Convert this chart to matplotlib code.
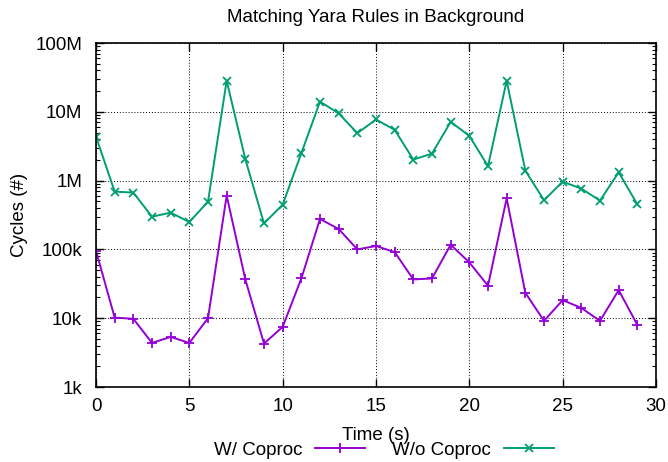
import matplotlib
matplotlib.use('Agg')
import matplotlib.pyplot as plt
from matplotlib.ticker import FixedLocator, FixedFormatter, LogLocator, NullFormatter

plt.rcParams['font.family'] = ['Liberation Sans', 'DejaVu Sans']

# data
time_s = list(range(30))
with_coproc = [95.7e3, 10.2e3, 9.8e3, 4.37e3, 5.35e3, 4.37e3, 10e3, 605e3, 36.6e3, 4.28e3,
               7.48e3, 37.8e3, 277e3, 198e3, 100e3, 112e3, 91.4e3, 36.6e3, 37.8e3, 117e3,
               64.7e3, 29.6e3, 553e3, 23.4e3, 9.14e3, 18.3e3, 14.1e3, 9.14e3, 25.6e3, 8.0e3]
without_coproc = [4.37e6, 692e3, 669e3, 299e3, 342e3, 250e3, 494e3, 28.3e6, 2.05e6, 239e3,
                  447e3, 2.5e6, 14.1e6, 9.46e6, 4.89e6, 7.73e6, 5.47e6, 2.02e6, 2.47e6, 7.15e6,
                  4.46e6, 1.62e6, 28.3e6, 1.40e6, 518e3, 966e3, 764e3, 512e3, 1.32e6, 452e3]
y_ticks = [1e3, 1e4, 1e5, 1e6, 1e7, 1e8]
y_labels = ['1k', '10k', '100k', '1M', '10M', '100M']
x_ticks = [0, 5, 10, 15, 20, 25, 30]

fs = 13.5
W, H = 668, 462
fig = plt.figure(figsize=(W / 100, H / 100), dpi=100)
ax = fig.add_axes([96 / W, 1 - 387 / H, 560 / W, 344 / H])

ax.plot(time_s, with_coproc, color='#9400d3', marker='+', markersize=7, linewidth=1.4,
        markeredgewidth=1.3, label='W/ Coproc')
ax.plot(time_s, without_coproc, color='#009e73', marker='x', markersize=6, linewidth=1.4,
        markeredgewidth=1.3, label='W/o Coproc')

ax.set_yscale('log')
ax.set_xlim(0, 30)
ax.set_ylim(1e3, 1e8)
ax.yaxis.set_major_locator(FixedLocator(y_ticks))
ax.yaxis.set_major_formatter(FixedFormatter(y_labels))
ax.yaxis.set_minor_locator(LogLocator(base=10, subs=range(2, 10)))
ax.yaxis.set_minor_formatter(NullFormatter())
ax.set_xticks(x_ticks)

ax.tick_params(which='both', direction='in', top=True, right=True, labelsize=fs)
ax.tick_params(which='major', length=6, width=1)
ax.tick_params(which='minor', length=3, width=0.8)
ax.tick_params(axis='y', pad=10)
ax.tick_params(axis='x', pad=8)
ax.grid(True, which='major', linestyle=(0, (1, 2)), color='black', linewidth=0.7)
for s in ax.spines.values():
    s.set_linewidth(1.2)

fig.text(376 / W, 1 - 17 / H, 'Matching Yara Rules in Background', fontsize=fs,
         ha='center', va='center')
fig.text(20 / W, 1 - 215 / H, 'Cycles (#)', fontsize=fs, rotation=90,
         ha='center', va='center')
fig.text(376 / W, 1 - 435 / H, 'Time (s)', fontsize=fs, ha='center', va='center')

fig.legend(loc='center', bbox_to_anchor=(384 / W, 1 - 450 / H), ncol=2,
           frameon=False, markerfirst=False, fontsize=fs, handlelength=2.67,
           handletextpad=0.7, columnspacing=1.45, borderaxespad=0, borderpad=0)

fig.savefig('out.png', dpi=100)
